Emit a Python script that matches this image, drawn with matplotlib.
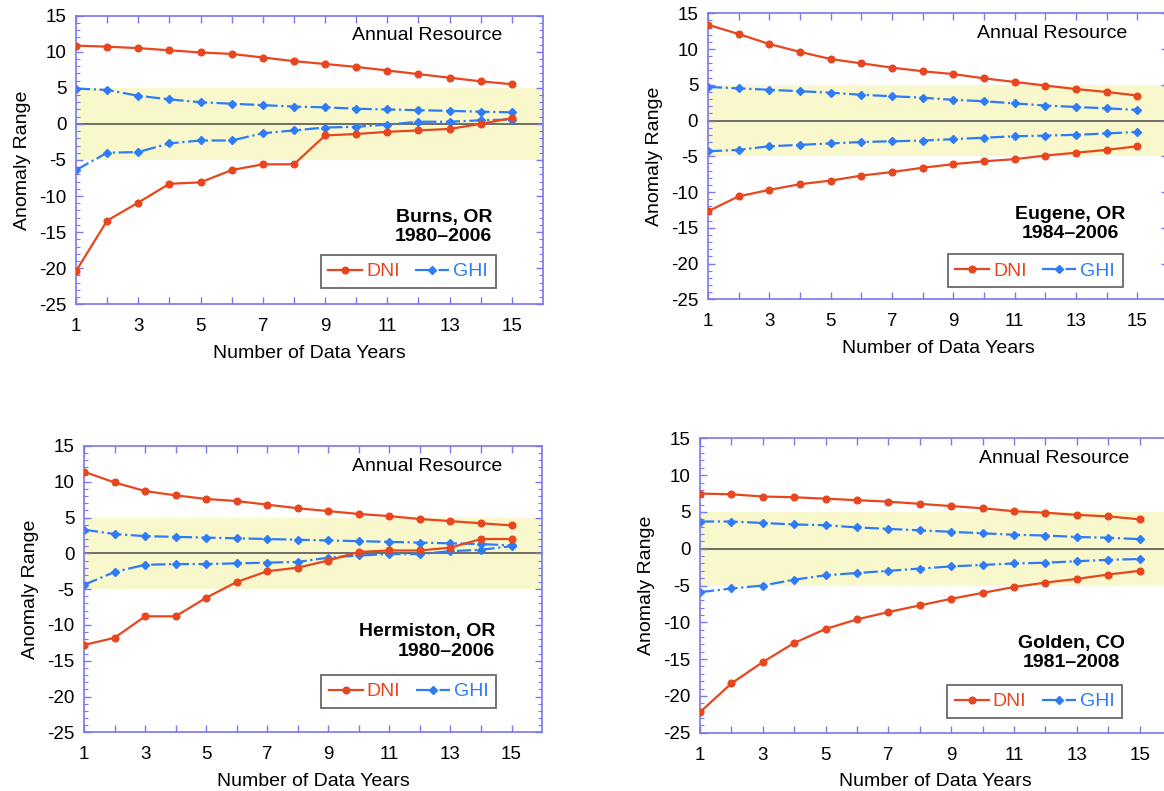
import matplotlib
matplotlib.use("Agg")
import matplotlib.pyplot as plt
from matplotlib.ticker import MultipleLocator, FixedLocator

plt.rcParams['font.family'] = ['Liberation Sans', 'DejaVu Sans']
plt.rcParams['axes.unicode_minus'] = False

years = list(range(1, 16))

# Burns, OR
burns_dni_hi = [10.85, 10.7, 10.5, 10.2, 9.9, 9.7, 9.2, 8.7, 8.3, 7.9, 7.4, 6.9, 6.4, 5.9, 5.5]
burns_dni_lo = [-20.4, -13.4, -10.9, -8.3, -8.1, -6.4, -5.6, -5.6, -1.6, -1.4, -1.1, -0.9, -0.7, 0.0, 0.8]
burns_ghi_hi = [4.9, 4.7, 3.9, 3.4, 3.0, 2.8, 2.6, 2.4, 2.3, 2.1, 2.0, 1.9, 1.8, 1.7, 1.6]
burns_ghi_lo = [-6.4, -4.0, -3.9, -2.7, -2.3, -2.3, -1.3, -0.9, -0.5, -0.4, -0.1, 0.3, 0.3, 0.5, 0.6]

# Eugene, OR
eugene_dni_hi = [13.4, 12.1, 10.7, 9.6, 8.6, 8.0, 7.4, 6.9, 6.5, 5.9, 5.4, 4.9, 4.4, 4.0, 3.5]
eugene_dni_lo = [-12.7, -10.6, -9.7, -8.9, -8.4, -7.7, -7.2, -6.6, -6.1, -5.7, -5.4, -4.9, -4.5, -4.1, -3.6]
eugene_ghi_hi = [4.7, 4.5, 4.3, 4.1, 3.9, 3.6, 3.4, 3.2, 2.9, 2.7, 2.4, 2.1, 1.9, 1.7, 1.5]
eugene_ghi_lo = [-4.3, -4.1, -3.6, -3.4, -3.2, -3.0, -2.9, -2.8, -2.6, -2.4, -2.2, -2.1, -2.0, -1.8, -1.6]

# Hermiston, OR
herm_dni_hi = [11.4, 9.9, 8.7, 8.1, 7.6, 7.3, 6.8, 6.3, 5.9, 5.5, 5.2, 4.8, 4.5, 4.2, 3.9]
herm_dni_lo = [-12.8, -11.8, -8.8, -8.8, -6.2, -4.0, -2.5, -2.0, -1.0, 0.2, 0.4, 0.4, 0.8, 2.0, 2.0]
herm_ghi_hi = [3.3, 2.7, 2.4, 2.3, 2.2, 2.1, 2.0, 1.9, 1.8, 1.7, 1.6, 1.5, 1.4, 1.3, 1.1]
herm_ghi_lo = [-4.4, -2.6, -1.6, -1.5, -1.5, -1.4, -1.3, -1.2, -0.6, -0.3, -0.1, -0.1, 0.3, 0.5, 1.0]

# Golden, CO
golden_dni_hi = [7.5, 7.4, 7.1, 7.0, 6.8, 6.6, 6.4, 6.1, 5.8, 5.5, 5.1, 4.9, 4.6, 4.4, 4.0]
golden_dni_lo = [-22.2, -18.3, -15.4, -12.8, -10.9, -9.6, -8.6, -7.7, -6.8, -6.0, -5.2, -4.6, -4.1, -3.5, -3.0]
golden_ghi_hi = [3.7, 3.7, 3.5, 3.3, 3.2, 2.9, 2.7, 2.5, 2.3, 2.1, 1.9, 1.8, 1.6, 1.5, 1.3]
golden_ghi_lo = [-5.9, -5.4, -5.0, -4.2, -3.6, -3.3, -3.0, -2.7, -2.4, -2.2, -2.0, -1.9, -1.7, -1.5, -1.4]

DNI_COLOR = '#E8461E'
GHI_COLOR = '#2E7CF6'
SPINE_COLOR = '#7878F0'
BAND_COLOR = '#F8F8CC'


def draw_panel(ax, dni_hi, dni_lo, ghi_hi, ghi_lo, station, align, st_x, st_y, leg_anchor):
    ax.axhspan(-5, 5, color=BAND_COLOR, zorder=0, lw=0)
    ax.axhline(0, color='#555555', lw=1.2, zorder=1)

    dni_kw = dict(color=DNI_COLOR, lw=1.6, marker='o', markersize=4.8, zorder=3)
    ghi_kw = dict(color=GHI_COLOR, lw=1.6, ls='-.', marker='D', markersize=4.2, zorder=2)
    ax.plot(years, dni_hi, label='DNI', **dni_kw)
    ax.plot(years, dni_lo, **dni_kw)
    ax.plot(years, ghi_hi, label='GHI', **ghi_kw)
    ax.plot(years, ghi_lo, **ghi_kw)

    ax.set_xlim(1, 16)
    ax.set_ylim(-25, 15)
    ax.xaxis.set_major_locator(FixedLocator(range(1, 16)))
    ax.set_xticklabels([str(v) if v % 2 == 1 else '' for v in range(1, 16)])
    ax.yaxis.set_major_locator(MultipleLocator(5))
    ax.yaxis.set_minor_locator(MultipleLocator(1))
    ax.tick_params(which='both', direction='in', top=True, right=True,
                   color=SPINE_COLOR, labelsize=13.5)
    ax.tick_params(which='major', length=5, width=1)
    ax.tick_params(which='minor', length=3, width=0.8)
    ax.tick_params(axis='x', which='major', pad=10)
    ax.tick_params(axis='y', which='major', pad=7)
    for s in ax.spines.values():
        s.set_color(SPINE_COLOR)
        s.set_linewidth(1.2)

    ax.set_xlabel('Number of Data Years', fontsize=14, labelpad=7)
    ax.set_ylabel('Anomaly Range', fontsize=14, labelpad=6)

    ax.text(0.912, 0.93, 'Annual Resource', transform=ax.transAxes,
            ha='right', va='center', fontsize=14)
    ax.text(st_x, st_y, station, transform=ax.transAxes, ha=align, va='center',
            multialignment=align, fontsize=14, fontweight='bold', linespacing=1.2)

    leg = ax.legend(loc='upper right', bbox_to_anchor=leg_anchor, ncol=2,
                    fontsize=14, frameon=True, fancybox=False, borderaxespad=0,
                    handlelength=1.75, handletextpad=0.2, columnspacing=0.8,
                    borderpad=0.4)
    leg.get_frame().set_edgecolor('#444444')
    leg.get_frame().set_linewidth(1.3)
    for txt, c in zip(leg.get_texts(), [DNI_COLOR, GHI_COLOR]):
        txt.set_color(c)


fig = plt.figure(figsize=(11.64, 7.91), dpi=100)

ax1 = fig.add_axes([0.0653, 0.6153, 0.4012, 0.3649])
draw_panel(ax1, burns_dni_hi, burns_dni_lo, burns_ghi_hi, burns_ghi_lo,
           'Burns, OR\n1980\u20132006', 'right', 0.891, 0.268, (0.899, 0.171))

ax2 = fig.add_axes([0.6082, 0.6216, 0.3952, 0.3616])
draw_panel(ax2, eugene_dni_hi, eugene_dni_lo, eugene_ghi_hi, eugene_ghi_lo,
           'Eugene, OR\n1984\u20132006', 'center', 0.787, 0.263, (0.902, 0.158))

ax3 = fig.add_axes([0.0722, 0.0742, 0.3935, 0.362])
draw_panel(ax3, herm_dni_hi, herm_dni_lo, herm_ghi_hi, herm_ghi_lo,
           'Hermiston, OR\n1980\u20132006', 'right', 0.897, 0.317, (0.90, 0.20))

ax4 = fig.add_axes([0.6014, 0.0737, 0.4046, 0.3721])
draw_panel(ax4, golden_dni_hi, golden_dni_lo, golden_ghi_hi, golden_ghi_lo,
           'Golden, CO\n1981\u20132008', 'center', 0.788, 0.271, (0.897, 0.162))

fig.savefig('out.png', dpi=100)
